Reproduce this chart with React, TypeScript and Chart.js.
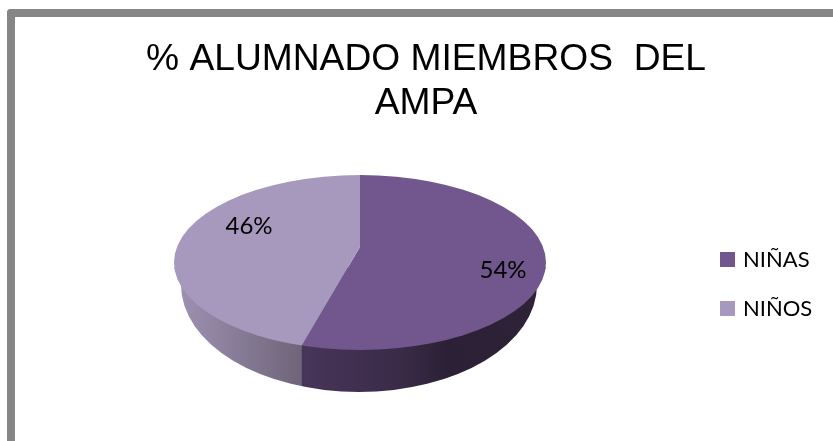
import React, { useEffect, useRef } from "react";
import { Chart, registerables } from "chart.js";

Chart.register(...registerables);

const categories = ["NIÑAS", "NIÑOS"];
const values = [54, 46];
const colors = ["#71578D", "#A799BD"];
const titleLines = ["% ALUMNADO MIEMBROS  DEL", "AMPA"];

// Top face geometry of the tilted pie, in canvas pixels (canvas sits at 15,17)
const APEX = { x: 345, y: 230 };
const FACE = { x: 345, y: 245.5, rx: 186, ry: 87.5 };
const BASE = { x: 344, y: 268, rx: 178, ry: 107 };
const TILT = 0.435;
const LABEL_OFFSETS = [
  { x: 143, y: 23 },
  { x: -111, y: -21 },
];

const pie3d = {
  id: "pie3d",
  afterLayout(chart: any) {
    const lg = chart.legend;
    const w = lg.width;
    const h = 300;
    lg.left = 681;
    lg.right = lg.left + w;
    lg.top = 267 - h / 2;
    lg.bottom = lg.top + h;
  },
  afterUpdate(chart: any) {
    chart.legend.legendItems.forEach((item: any, i: number) => {
      item.strokeStyle = colors[i];
      item.lineWidth = 6;
      item.lineJoin = "miter";
    });
  },
  beforeDatasetsDraw(chart: any) {
    const ctx = chart.ctx;
    const arcs = chart.getDatasetMeta(0).data;
    // where the slice boundary meets the rim of the top face
    const a = arcs[0].endAngle;
    const dx = Math.cos(a);
    const dy = TILT * Math.sin(a);
    const ox = (APEX.x - FACE.x) / FACE.rx;
    const oy = (APEX.y - FACE.y) / FACE.ry;
    const ux = dx / FACE.rx;
    const uy = dy / FACE.ry;
    const A = ux * ux + uy * uy;
    const B = 2 * (ox * ux + oy * uy);
    const C = ox * ox + oy * oy - 1;
    const t = (-B + Math.sqrt(B * B - 4 * A * C)) / (2 * A);
    const splitX = APEX.x + t * dx;

    ctx.save();
    const wall = new Path2D();
    wall.moveTo(FACE.x - FACE.rx, FACE.y + 5);
    wall.lineTo(BASE.x - BASE.rx, BASE.y);
    wall.ellipse(BASE.x, BASE.y, BASE.rx, BASE.ry, 0, Math.PI, 0, true);
    wall.lineTo(FACE.x + FACE.rx, FACE.y + 5);
    wall.closePath();
    ctx.clip(wall);

    const left = ctx.createLinearGradient(FACE.x - FACE.rx, 0, splitX, 0);
    left.addColorStop(0, "#A092B3");
    left.addColorStop(0.5, "#877C97");
    left.addColorStop(1, "#6F6579");
    ctx.fillStyle = left;
    ctx.fillRect(0, 0, splitX + 0.5, chart.height);

    const right = ctx.createLinearGradient(splitX, 0, FACE.x + FACE.rx, 0);
    right.addColorStop(0, "#48355A");
    right.addColorStop(0.4, "#3A2B48");
    right.addColorStop(0.6, "#2B2035");
    right.addColorStop(1, "#2D2236");
    ctx.fillStyle = right;
    ctx.fillRect(splitX, 0, chart.width, chart.height);
    ctx.restore();

    // the library's arcs are drawn through a squash, clipped by the face ellipse
    ctx.save();
    ctx.beginPath();
    ctx.ellipse(FACE.x, FACE.y, FACE.rx, FACE.ry, 0, 0, Math.PI * 2);
    ctx.clip();
    const cx = arcs[0].x;
    const cy = arcs[0].y;
    ctx.translate(APEX.x, APEX.y);
    ctx.scale(1, TILT);
    ctx.translate(-cx, -cy);
  },
  afterDatasetsDraw(chart: any) {
    const ctx = chart.ctx;
    ctx.restore();
    ctx.save();
    ctx.fillStyle = "#000";
    ctx.font = "24px Lato";
    ctx.textAlign = "center";
    ctx.textBaseline = "middle";
    values.forEach((v, i) => {
      ctx.fillText(`${v}%`, APEX.x + LABEL_OFFSETS[i].x, APEX.y + LABEL_OFFSETS[i].y);
    });
    ctx.restore();
  },
};

export default function App() {
  const ref = useRef<HTMLCanvasElement>(null);
  useEffect(() => {
    document.body.style.margin = "0";
    const chart = new Chart(ref.current!, {
      type: "pie",
      plugins: [pie3d],
      data: {
        labels: categories,
        datasets: [
          {
            data: values,
            backgroundColor: colors,
            borderWidth: 0,
            clip: false,
            radius: 290,
          } as any,
        ],
      },
      options: {
        animation: false,
        responsive: false,
        layout: { padding: 0 },
        plugins: {
          title: {
            display: true,
            text: titleLines,
            color: "#000",
            font: { family: "'Liberation Sans'", size: 37.2, weight: "normal", lineHeight: 1.17 },
            padding: { top: 21, bottom: 12 },
          },
          legend: {
            position: "right",
            labels: {
              boxWidth: 9,
              boxHeight: 9,
              padding: 27,
              color: "#000",
              font: { family: "Lato", size: 22 },
            },
          },
          tooltip: { enabled: false },
        },
      },
    });
    return () => chart.destroy();
  }, []);
  return (
    <div style={{ position: "relative", width: 833, height: 441, overflow: "hidden", background: "#fff" }}>
      <div
        style={{
          position: "absolute",
          left: 7,
          top: 9,
          width: 900,
          height: 500,
          borderLeft: "8px solid #868686",
          borderTop: "8px solid #868686",
          borderTopLeftRadius: 4,
        }}
      />
      <canvas ref={ref} width={822} height={424} style={{ position: "absolute", left: 15, top: 17, display: "block" }} />
    </div>
  );
}
